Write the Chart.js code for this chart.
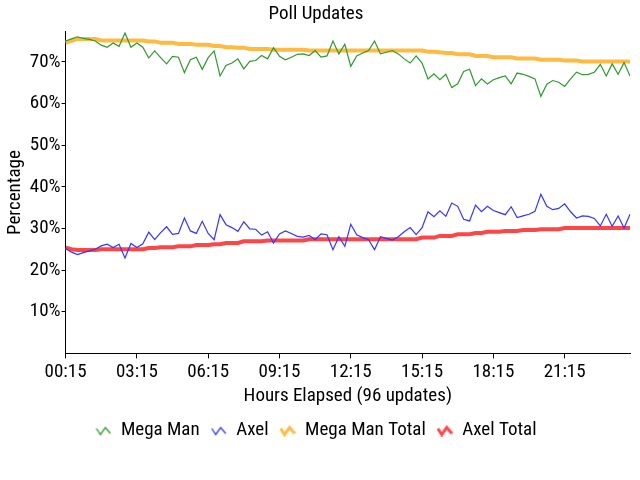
<!DOCTYPE html>
<html>
<head>
<meta charset="utf-8">
<script src="https://cdn.jsdelivr.net/npm/chart.js@4.4.0/dist/chart.umd.min.js"></script>
<style>
  body { margin: 0; background: #fff; }
  #wrap { width: 640px; height: 480px; }
</style>
</head>
<body>
<div id="wrap"><canvas id="pollChart" width="640" height="480"></canvas></div>
<script>
// 96 updates, one every 15 minutes
const horas = [];
for (let i = 1; i <= 96; i++) {
    const m = i * 15;
    horas.push(String(Math.floor(m / 60)).padStart(2, '0') + ':' + String(m % 60).padStart(2, '0'));
}

const yTicks = [10, 20, 30, 40, 50, 60, 70];

const megaMan = [
    75.0, 75.5, 76.0, 75.6, 75.4, 75.0, 74.0, 73.5, 74.5, 73.7, 76.9, 73.5,
    74.5, 73.5, 70.9, 72.6, 71.0, 69.5, 71.3, 71.1, 67.4, 70.5, 71.1, 68.2,
    71.0, 72.6, 66.6, 69.1, 69.7, 70.7, 68.3, 70.1, 70.3, 71.5, 70.7, 73.4,
    71.3, 70.5, 71.1, 71.8, 71.9, 71.5, 72.7, 71.1, 71.4, 75.0, 71.9, 74.2,
    68.9, 71.4, 72.1, 72.7, 75.0, 71.9, 72.3, 72.7, 71.9, 70.7, 69.7, 71.4,
    69.7, 65.9, 67.1, 65.7, 67.0, 63.8, 64.7, 67.7, 68.2, 64.3, 65.9, 64.7,
    65.7, 66.2, 66.6, 64.7, 67.3, 67.0, 66.5, 65.9, 61.7, 64.6, 65.5, 65.1,
    64.1, 65.9, 67.5, 66.9, 67.0, 67.5, 69.4, 66.6, 69.5, 67.0, 69.8, 66.6
];

const axel = [
    25.2, 24.3, 23.7, 24.2, 24.6, 25.0, 25.8, 26.2, 25.4, 26.2, 22.9, 26.4,
    25.4, 26.3, 29.1, 27.3, 29.0, 30.4, 28.6, 28.8, 32.5, 29.4, 28.8, 31.7,
    28.8, 27.3, 33.3, 30.9, 30.2, 29.3, 31.6, 29.9, 29.8, 28.4, 29.2, 26.5,
    28.7, 29.4, 28.8, 28.1, 27.9, 28.3, 27.3, 28.7, 28.5, 24.9, 28.0, 25.7,
    31.0, 28.5, 27.8, 27.3, 24.9, 28.0, 27.6, 27.2, 28.0, 29.2, 30.2, 28.5,
    30.2, 34.0, 32.8, 34.2, 32.9, 36.1, 35.3, 32.2, 31.8, 35.6, 34.0, 35.3,
    34.3, 33.8, 33.3, 35.2, 32.6, 33.0, 33.4, 34.1, 38.2, 35.3, 34.5, 34.8,
    35.9, 34.0, 32.5, 33.0, 32.9, 32.4, 30.6, 33.4, 30.5, 33.0, 30.1, 33.4
];

const megaManTotal = [
    74.6, 75.0, 75.5, 75.5, 75.5, 75.5, 75.1, 75.1, 75.1, 75.1, 75.1, 75.1,
    75.1, 75.1, 74.9, 74.9, 74.6, 74.6, 74.6, 74.3, 74.3, 74.3, 74.1, 74.1,
    74.1, 73.8, 73.8, 73.5, 73.5, 73.4, 73.4, 73.1, 73.1, 73.1, 73.1, 72.9,
    72.9, 72.9, 72.9, 72.9, 72.9, 72.7, 72.7, 72.7, 72.7, 72.7, 72.7, 72.7,
    72.7, 72.7, 72.7, 72.7, 72.7, 72.7, 72.7, 72.7, 72.7, 72.7, 72.7, 72.7,
    72.7, 72.4, 72.4, 72.3, 72.1, 72.1, 71.8, 71.8, 71.8, 71.4, 71.4, 71.4,
    71.1, 71.1, 71.1, 71.1, 70.8, 70.8, 70.8, 70.8, 70.5, 70.5, 70.5, 70.5,
    70.3, 70.3, 70.3, 70.1, 70.1, 70.1, 70.1, 70.1, 70.1, 70.1, 70.1, 70.1
];

const axelTotal = [
    25.4, 25.0, 24.8, 24.8, 24.8, 24.8, 25.0, 25.0, 25.0, 25.0, 25.0, 25.0,
    25.0, 25.0, 25.3, 25.3, 25.5, 25.5, 25.5, 25.7, 25.7, 25.7, 26.0, 26.0,
    26.0, 26.2, 26.2, 26.5, 26.5, 26.5, 26.9, 26.9, 26.9, 26.9, 27.1, 27.1,
    27.1, 27.1, 27.1, 27.1, 27.1, 27.4, 27.4, 27.4, 27.4, 27.4, 27.4, 27.4,
    27.4, 27.4, 27.4, 27.4, 27.4, 27.4, 27.4, 27.4, 27.4, 27.4, 27.4, 27.4,
    27.8, 27.8, 27.8, 28.2, 28.2, 28.2, 28.6, 28.6, 28.6, 28.9, 28.9, 29.2,
    29.2, 29.2, 29.4, 29.4, 29.4, 29.6, 29.6, 29.6, 29.8, 29.8, 29.8, 29.8,
    30.1, 30.1, 30.1, 30.1, 30.1, 30.1, 30.1, 30.1, 30.1, 30.1, 30.1, 30.1
];

const fuente = "'Roboto Condensed', 'Liberation Sans', sans-serif";

// little zigzag used as legend symbol
function zigzag(color, grosor) {
    const c = document.createElement('canvas');
    c.width = 16;
    c.height = 12;
    const g = c.getContext('2d');
    g.strokeStyle = color;
    g.lineWidth = grosor;
    g.beginPath();
    g.moveTo(1, 4);
    g.lineTo(5, 10);
    g.lineTo(10, 3);
    g.lineTo(15, 9);
    g.stroke();
    return c;
}

function crearGrafico() {
    const ctx = document.getElementById('pollChart').getContext('2d');

    new Chart(ctx, {
        type: 'line',
        data: {
            labels: horas,
            datasets: [{
                label: 'Mega Man',
                data: megaMan,
                borderColor: '#2e9a2e',
                borderWidth: 1.2,
                pointRadius: 0,
                pointStyle: zigzag('#2e9a2e', 1.3),
                tension: 0
            }, {
                label: 'Axel',
                data: axel,
                borderColor: '#3535ff',
                borderWidth: 1.2,
                pointRadius: 0,
                pointStyle: zigzag('#3535ff', 1.3),
                tension: 0
            }, {
                label: 'Mega Man Total',
                data: megaManTotal,
                borderColor: 'rgba(255, 178, 45, 0.9)',
                borderWidth: 4,
                pointRadius: 0,
                pointStyle: zigzag('rgba(255, 178, 45, 0.9)', 3),
                tension: 0
            }, {
                label: 'Axel Total',
                data: axelTotal,
                borderColor: 'rgba(255, 50, 50, 0.9)',
                borderWidth: 4,
                pointRadius: 0,
                pointStyle: zigzag('rgba(255, 50, 50, 0.9)', 3),
                tension: 0
            }]
        },
        options: {
            responsive: false,
            animation: false,
            layout: {
                padding: { left: 2, right: 10, top: 0, bottom: 30 }
            },
            plugins: {
                title: {
                    display: true,
                    text: 'Poll Updates',
                    color: '#000',
                    font: { family: fuente, size: 19, weight: 'normal' },
                    padding: { top: 3, bottom: 6 }
                },
                legend: {
                    position: 'bottom',
                    labels: {
                        usePointStyle: true,
                        pointStyleWidth: 16,
                        padding: 11,
                        color: '#000',
                        font: { family: fuente, size: 19 }
                    }
                },
                tooltip: { enabled: false }
            },
            scales: {
                x: {
                    afterBuildTicks: function(scale) {
                        scale.ticks = scale.ticks.filter(t => t.value % 12 === 0);
                    },
                    grid: {
                        drawOnChartArea: false,
                        drawTicks: true,
                        tickLength: 5,
                        color: '#000'
                    },
                    border: { display: true, color: '#000' },
                    ticks: {
                        autoSkip: false,
                        maxRotation: 0,
                        padding: 2,
                        color: '#000',
                        font: { family: fuente, size: 19 }
                    },
                    title: {
                        display: true,
                        text: 'Hours Elapsed (96 updates)',
                        color: '#000',
                        font: { family: fuente, size: 19 },
                        padding: { top: 0, bottom: 2 }
                    }
                },
                y: {
                    min: 0,
                    max: 77.2,
                    afterBuildTicks: function(scale) {
                        scale.ticks = yTicks.map(v => ({ value: v }));
                    },
                    grid: {
                        drawOnChartArea: false,
                        drawTicks: true,
                        tickLength: 4,
                        color: '#000'
                    },
                    border: { display: true, color: '#000' },
                    ticks: {
                        padding: 1,
                        color: '#000',
                        font: { family: fuente, size: 19 },
                        callback: v => v + '%'
                    },
                    title: {
                        display: true,
                        text: 'Percentage',
                        color: '#000',
                        font: { family: fuente, size: 19 },
                        padding: 2
                    }
                }
            }
        }
    });
}

crearGrafico();
</script>
</body>
</html>
